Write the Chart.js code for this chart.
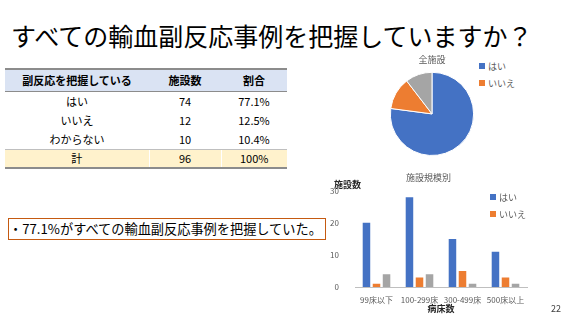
<!DOCTYPE html>
<html>
<head>
<meta charset="utf-8">
<script src="https://cdn.jsdelivr.net/npm/chart.js@4.4.1/dist/chart.umd.min.js"></script>
<style>
  html, body { margin: 0; padding: 0; background: #fff; }
  body { width: 569px; height: 320px; position: relative; overflow: hidden;
         font-family: "Noto Sans CJK JP", "Noto Sans", sans-serif; color: #000; }
  .title { position: absolute; left: 11px; top: 17px; font-size: 25px; white-space: nowrap; }
  table { position: absolute; left: 5px; top: 68px; border-collapse: collapse; font-size: 11px; }
  th, td { text-align: center; padding: 0; height: 19px; line-height: 19px; }
  th { background: #dae3f3; font-weight: bold; height: 21px; line-height: 21px; border-top: 2px solid #8c8c8c; border-bottom: 1px solid #8c8c8c; }
  tr.total td { background: #fff2cc; border-top: 1px solid #bfbfbf; border-bottom: 2px solid #8c8c8c; height: 17px; line-height: 17px; }
  tr.total td + td { border-left: 1px solid #fff; }
  .note { position: absolute; left: 8px; top: 218px; width: 316px; height: 20px; border: 1.5px solid #c55a11;
          font-size: 13.2px; line-height: 20px; padding-left: 0; white-space: nowrap; }
  #pieWrap { position: absolute; left: 385px; top: 52px; width: 94px; height: 110px; }
  #barWrap { position: absolute; left: 330px; top: 170px; width: 210px; height: 144px; }
  .legend { position: absolute; font-size: 9px; color: #595959; }
  .legend div { height: 17px; line-height: 12px; white-space: nowrap; }
  .legend span { display: inline-block; width: 6px; height: 6px; margin-right: 3px; vertical-align: 1px; }
  .page { position: absolute; left: 551px; top: 302px; font-size: 9px; color: #404040; }
</style>
</head>
<body>
<div class="title">すべての輸血副反応事例を把握していますか？</div>

<table>
  <thead>
    <tr><th style="width:144px">副反応を把握している</th><th style="width:72px">施設数</th><th style="width:66px">割合</th></tr>
  </thead>
  <tbody id="tbody"></tbody>
</table>

<div class="note">・77.1%がすべての輸血副反応事例を把握していた。</div>

<div id="pieWrap"><canvas id="pie"></canvas></div>
<div class="legend" id="pieLegend" style="left:479px; top:61px;"></div>
<div id="barWrap"><canvas id="bar"></canvas></div>
<div class="legend" id="barLegend" style="left:490px; top:192px;"></div>
<div class="page">22</div>

<script>
// answers and counts (all facilities)
const answers = ['はい', 'いいえ', 'わからない'];
const counts = [74, 12, 10];
const shares = ['77.1%', '12.5%', '10.4%'];
const totalLabel = '計';
const totalCount = 96;
const totalShare = '100%';

// by hospital size (beds)
const bedSizes = ['99床以下', '100-299床', '300-499床', '500床以上'];
const yesBySize = [20, 28, 15, 11];
const noBySize = [1, 3, 5, 3];
const unknownBySize = [4, 4, 1, 1];
const yTicks = [0, 10, 20, 30];

const colors = ['#4472c4', '#ed7d31', '#a5a5a5'];
const legendShown = ['はい', 'いいえ'];

// table
const tbody = document.getElementById('tbody');
answers.forEach((a, i) => {
  const tr = document.createElement('tr');
  tr.innerHTML = `<td>${a}</td><td>${counts[i]}</td><td>${shares[i]}</td>`;
  tbody.appendChild(tr);
});
const tr = document.createElement('tr');
tr.className = 'total';
tr.innerHTML = `<td>${totalLabel}</td><td>${totalCount}</td><td>${totalShare}</td>`;
tbody.appendChild(tr);

Chart.defaults.font.family = '"Noto Sans CJK JP", "Noto Sans", sans-serif';
Chart.defaults.color = '#595959';
Chart.defaults.animation = false;

new Chart(document.getElementById('pie'), {
  type: 'pie',
  data: {
    labels: answers,
    datasets: [{ data: counts, backgroundColor: colors, borderColor: '#fff', borderWidth: 1 }]
  },
  options: {
    responsive: true,
    maintainAspectRatio: false,
    layout: { padding: { left: 0, right: 0, top: 0, bottom: 6 } },
    plugins: {
      title: { display: true, text: '全施設', font: { size: 9, weight: 'normal' }, color: '#595959', padding: { top: 2, bottom: 7 } },
      legend: { display: false },
      tooltip: { enabled: false }
    }
  }
});

// y axis caption drawn above the axis, horizontal
const yCaption = {
  id: 'yCaption',
  afterDraw(chart) {
    const y = chart.scales.y;
    const ctx = chart.ctx;
    ctx.save();
    ctx.font = 'bold 9px "Noto Sans CJK JP", sans-serif';
    ctx.fillStyle = '#262626';
    ctx.textAlign = 'left';
    ctx.textBaseline = 'bottom';
    ctx.fillText('施設数', 4, y.top - 2);
    ctx.restore();
  }
};

const series = [
  { label: 'はい', data: yesBySize },
  { label: 'いいえ', data: noBySize },
  { label: 'わからない', data: unknownBySize }
];

new Chart(document.getElementById('bar'), {
  type: 'bar',
  data: {
    labels: bedSizes,
    datasets: series.map((s, i) => ({
      label: s.label, data: s.data, backgroundColor: colors[i],
      categoryPercentage: 0.7, barPercentage: 0.75
    }))
  },
  options: {
    responsive: true,
    maintainAspectRatio: false,
    layout: { padding: { left: 0, right: 13, top: 0, bottom: 0 } },
    plugins: {
      title: { display: true, text: '施設規模別', font: { size: 9, weight: 'normal' }, color: '#595959', padding: { top: 2, bottom: 8 } },
      legend: { display: false },
      tooltip: { enabled: false }
    },
    scales: {
      x: {
        afterFit: s => { s.height = 27; },
        grid: { display: false },
        border: { color: '#bfbfbf' },
        ticks: { font: { size: 8 }, color: '#595959', maxRotation: 0, autoSkip: false, padding: 0 },
        title: { display: true, text: '病床数', font: { size: 9, weight: 'bold' }, color: '#262626', padding: { top: 0, bottom: 0 } }
      },
      y: {
        min: 0, max: 30,
        afterFit: s => { s.width = 25; },
        afterBuildTicks: s => { s.ticks = yTicks.map(v => ({ value: v })); },
        grid: { display: false },
        border: { display: false },
        ticks: { font: { size: 8 }, color: '#595959', padding: 8 }
      }
    }
  },
  plugins: [yCaption]
});

// legends (only はい / いいえ appear in the original)
function buildLegend(id, labels) {
  const lg = document.getElementById(id);
  labels.forEach((label, i) => {
    if (!legendShown.includes(label)) return;
    const d = document.createElement('div');
    d.innerHTML = `<span style="background:${colors[i]}"></span>${label}`;
    lg.appendChild(d);
  });
}
buildLegend('pieLegend', answers);
buildLegend('barLegend', series.map(s => s.label));
</script>
</body>
</html>
